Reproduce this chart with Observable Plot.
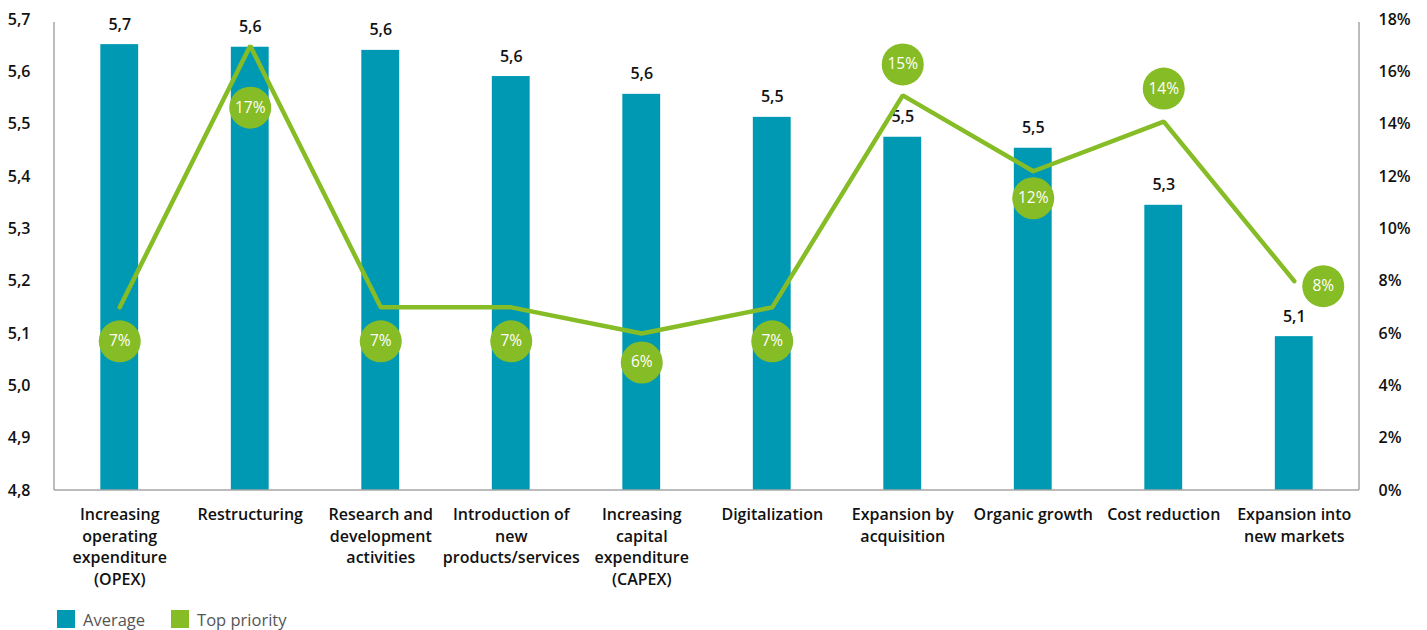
<!DOCTYPE html>
<html>
<head>
<meta charset="utf-8">
<script src="https://cdn.jsdelivr.net/npm/d3@7"></script>
<script src="https://cdn.jsdelivr.net/npm/@observablehq/plot@0.6"></script>
<style>
  html, body { margin: 0; padding: 0; background: #fff; }
  body { width: 1427px; height: 630px; overflow: hidden; font-family: "Open Sans", sans-serif; }
  #wrap { position: relative; width: 1427px; height: 600px; }
  #wrap svg { position: absolute; left: 0; top: 0; background: transparent; }
  #legend { display: flex; align-items: center; height: 30px; padding-left: 57px; padding-top: 4px; font-size: 16.5px; color: #555; }
  .sw { width: 18px; height: 18px; display: inline-block; margin-right: 8px; }
  .item { display: flex; align-items: center; margin-right: 26px; }
</style>
</head>
<body>
<div id="wrap"></div>
<div id="legend">
  <div class="item"><span class="sw" style="background:#0099b4"></span>Average</div>
  <div class="item"><span class="sw" style="background:#86bc25"></span>Top priority</div>
</div>
<script>
// ---- data ----
const categories = [
  "Increasing\noperating\nexpenditure\n(OPEX)",
  "Restructuring",
  "Research and\ndevelopment\nactivities",
  "Introduction of\nnew\nproducts/services",
  "Increasing\ncapital\nexpenditure\n(CAPEX)",
  "Digitalization",
  "Expansion by\nacquisition",
  "Organic growth",
  "Cost reduction",
  "Expansion into\nnew markets"
];
const averageValues = [5.652, 5.647, 5.641, 5.591, 5.557, 5.513, 5.475, 5.454, 5.345, 5.094];
const topPriorityPct = [7, 17, 7, 7, 6, 7, 15.1, 12.2, 14.1, 8];
const topPriorityLabels = ["7%", "17%", "7%", "7%", "6%", "7%", "15%", "12%", "14%", "8%"];
const leftTicks = [4.8, 4.9, 5.0, 5.1, 5.2, 5.3, 5.4, 5.5, 5.6, 5.7];
const rightTicks = [0, 2, 4, 6, 8, 10, 12, 14, 16, 18];

// ---- build ----
const rows = categories.map((c, i) => ({
  cat: c, avg: averageValues[i], pct: topPriorityPct[i], lab: topPriorityLabels[i]
}));
const fmtComma = v => d3.format(".1f")(v).replace(".", ",");

const W = 1427, H = 600;
const margins = {marginLeft: 54, marginRight: 68, marginTop: 19, marginBottom: 110};
const xScale = {type: "band", domain: categories, paddingInner: 0.71, paddingOuter: 0.355, round: false};
const teal = "#0099b4", green = "#86bc25";
const fontStyle = {fontFamily: "Open Sans, sans-serif", fontSize: "16px", color: "#111", overflow: "visible"};

// frame lines (left, bottom, right)
const frameLines = (index, scales, values, dims) => {
  const g = d3.create("svg:g").attr("stroke", "#a6a6a6").attr("stroke-width", 1.5);
  const l = dims.marginLeft, r = dims.width - dims.marginRight, t = dims.marginTop + 3, b = dims.height - dims.marginBottom;
  g.append("line").attr("x1", l).attr("x2", l).attr("y1", t).attr("y2", b);
  g.append("line").attr("x1", r).attr("x2", r).attr("y1", t).attr("y2", b);
  g.append("line").attr("x1", l).attr("x2", r).attr("y1", b).attr("y2", b);
  return g.node();
};

const plot1 = Plot.plot({
  width: W, height: H, ...margins,
  style: fontStyle,
  x: {...xScale, axis: null},
  y: {domain: [4.8, 5.7], axis: null},
  marks: [
    Plot.barY(rows, {x: "cat", y1: 4.8, y2: "avg", fill: teal}),
    Plot.text(rows, {x: "cat", y: "avg", text: d => fmtComma(d.avg), dy: -15, lineAnchor: "bottom",
      fontSize: 16, fontWeight: 600, fill: "#111"}),
    Plot.axisY({ticks: leftTicks, tickFormat: fmtComma, tickSize: 0, tickPadding: 24,
      fontSize: 16, fontWeight: 600, fill: "#111", label: null}),
    Plot.axisX({tickSize: 0, tickPadding: 14, fontSize: 16, fontWeight: 600, fill: "#111",
      lineHeight: 1.36, label: null, textOverflow: null}),
    frameLines
  ]
});

// offsets of the percentage bubbles relative to the line vertices
const bubbleOffsets = [[0, 34], [0, 62], [0, 34], [0, 34], [0, 29], [0, 34], [0, -31], [0, 27], [0, -33], [29, 5]];

const plot2 = Plot.plot({
  width: W, height: H, ...margins,
  style: {...fontStyle, background: "transparent"},
  x: {...xScale, axis: null},
  y: {domain: [0, 18], axis: null},
  marks: [
    Plot.line(rows, {x: "cat", y: "pct", stroke: green, strokeWidth: 4.5, strokeLinejoin: "miter"}),
    ...rows.map((d, i) => Plot.dot([d], {x: "cat", y: "pct", r: 21, fill: green, stroke: "none",
      dx: bubbleOffsets[i][0], dy: bubbleOffsets[i][1]})),
    ...rows.map((d, i) => Plot.text([d], {x: "cat", y: "pct", text: "lab", fill: "#fff", fontSize: 15.5,
      fontWeight: 400, dx: bubbleOffsets[i][0], dy: bubbleOffsets[i][1]})),
    Plot.axisY({anchor: "right", ticks: rightTicks, tickFormat: d => d + "%", tickSize: 0, tickPadding: 19,
      fontSize: 16, fontWeight: 600, fill: "#111", label: null})
  ]
});

document.getElementById("wrap").append(plot1, plot2);
</script>
</body>
</html>
